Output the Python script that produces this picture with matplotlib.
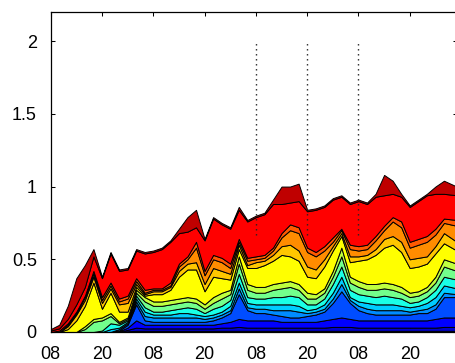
import matplotlib
matplotlib.use("Agg")
import matplotlib.pyplot as plt
import numpy as np

# Sample times in hours after 08:00 on the first day (two-hourly readings)
hours = list(range(0, 94, 2)) + [95]

# Cumulative upper edge of each stacked band, bottom band first
navy_top = [0, 0, 0, 0, 0, 0, 0, 0, 0, 0.005, 0.008, 0.008, 0.008, 0.008, 0.008, 0.008,
            0.008, 0.008, 0.008, 0.008, 0.008, 0.008, 0.008, 0.008, 0.008, 0.008, 0.008, 0.008,
            0.008, 0.008, 0.008, 0.008, 0.008, 0.008, 0.008, 0.008, 0.008, 0.008, 0.008, 0.008,
            0.008, 0.008, 0.008, 0.008, 0.008, 0.008, 0.008, 0.008]
darkblue_top = [0, 0, 0, 0, 0, 0, 0, 0, 0.002, 0.015, 0.03, 0.025, 0.025, 0.025, 0.025, 0.025,
                0.025, 0.025, 0.025, 0.025, 0.03, 0.03, 0.035, 0.03, 0.03, 0.03, 0.03, 0.03,
                0.03, 0.03, 0.03, 0.03, 0.03, 0.035, 0.035, 0.035, 0.03, 0.03, 0.03, 0.03,
                0.03, 0.03, 0.03, 0.03, 0.03, 0.03, 0.035, 0.035]
blue_top = [0, 0, 0, 0, 0, 0, 0, 0, 0.005, 0.03, 0.08, 0.05, 0.05, 0.05, 0.05, 0.05,
            0.05, 0.05, 0.05, 0.05, 0.06, 0.07, 0.09, 0.08, 0.08, 0.08, 0.08, 0.07,
            0.07, 0.07, 0.07, 0.07, 0.08, 0.09, 0.10, 0.09, 0.08, 0.08, 0.08, 0.08,
            0.08, 0.08, 0.08, 0.08, 0.08, 0.09, 0.10, 0.10]
azure_top = [0, 0, 0, 0, 0, 0, 0, 0, 0.01, 0.05, 0.19, 0.08, 0.07, 0.07, 0.07, 0.07,
             0.07, 0.07, 0.07, 0.08, 0.10, 0.13, 0.26, 0.15, 0.13, 0.13, 0.12, 0.11,
             0.10, 0.10, 0.11, 0.12, 0.14, 0.20, 0.28, 0.20, 0.15, 0.13, 0.12, 0.12,
             0.12, 0.12, 0.12, 0.13, 0.13, 0.16, 0.24, 0.24]
sky_top = [0, 0, 0, 0, 0, 0, 0, 0, 0.02, 0.06, 0.21, 0.11, 0.10, 0.10, 0.10, 0.10,
           0.10, 0.10, 0.09, 0.10, 0.12, 0.15, 0.30, 0.17, 0.16, 0.16, 0.15, 0.15,
           0.15, 0.14, 0.13, 0.14, 0.16, 0.23, 0.33, 0.22, 0.18, 0.16, 0.15, 0.15,
           0.15, 0.15, 0.14, 0.15, 0.16, 0.19, 0.27, 0.26]
lightblue_top = [0, 0, 0, 0, 0, 0, 0, 0.02, 0.03, 0.07, 0.23, 0.14, 0.12, 0.12, 0.12, 0.13,
                 0.13, 0.12, 0.11, 0.12, 0.14, 0.18, 0.34, 0.20, 0.19, 0.19, 0.19, 0.19,
                 0.19, 0.18, 0.15, 0.16, 0.19, 0.27, 0.38, 0.24, 0.21, 0.20, 0.19, 0.19,
                 0.19, 0.18, 0.17, 0.18, 0.20, 0.24, 0.32, 0.30]
cyan_top = [0, 0, 0, 0, 0, 0, 0.01, 0.06, 0.05, 0.08, 0.25, 0.17, 0.14, 0.14, 0.15, 0.16,
            0.17, 0.16, 0.13, 0.16, 0.18, 0.22, 0.40, 0.24, 0.23, 0.23, 0.24, 0.24,
            0.25, 0.24, 0.19, 0.19, 0.23, 0.33, 0.45, 0.29, 0.26, 0.25, 0.24, 0.25,
            0.24, 0.23, 0.20, 0.21, 0.24, 0.29, 0.38, 0.36]
green_top = [0, 0, 0, 0, 0.02, 0.07, 0.08, 0.11, 0.06, 0.09, 0.27, 0.21, 0.18, 0.18, 0.19, 0.20,
             0.21, 0.20, 0.16, 0.20, 0.23, 0.26, 0.47, 0.29, 0.27, 0.27, 0.29, 0.30,
             0.31, 0.29, 0.23, 0.23, 0.27, 0.38, 0.52, 0.34, 0.31, 0.29, 0.29, 0.30,
             0.29, 0.27, 0.24, 0.25, 0.28, 0.34, 0.45, 0.42]
lime_top = [0, 0, 0, 0, 0.04, 0.09, 0.10, 0.13, 0.07, 0.10, 0.29, 0.24, 0.21, 0.21, 0.22, 0.23,
            0.24, 0.23, 0.19, 0.24, 0.27, 0.29, 0.52, 0.33, 0.31, 0.31, 0.33, 0.34,
            0.35, 0.33, 0.27, 0.26, 0.30, 0.42, 0.58, 0.38, 0.35, 0.33, 0.33, 0.34,
            0.33, 0.31, 0.27, 0.28, 0.31, 0.38, 0.50, 0.47]
yellow_top = [0, 0, 0.02, 0.08, 0.18, 0.34, 0.16, 0.27, 0.14, 0.14, 0.31, 0.25, 0.26, 0.26, 0.29, 0.38,
              0.43, 0.43, 0.28, 0.38, 0.37, 0.36, 0.57, 0.44, 0.44, 0.46, 0.49, 0.53,
              0.52, 0.49, 0.38, 0.37, 0.45, 0.56, 0.66, 0.48, 0.49, 0.50, 0.53, 0.58,
              0.60, 0.55, 0.44, 0.45, 0.47, 0.54, 0.61, 0.56]
amber_top = [0, 0, 0.04, 0.12, 0.22, 0.38, 0.20, 0.30, 0.19, 0.20, 0.33, 0.26, 0.28, 0.28, 0.31, 0.42,
             0.47, 0.48, 0.33, 0.44, 0.42, 0.40, 0.60, 0.46, 0.48, 0.49, 0.53, 0.59,
             0.60, 0.56, 0.45, 0.43, 0.50, 0.59, 0.68, 0.52, 0.52, 0.53, 0.57, 0.64,
             0.66, 0.62, 0.50, 0.51, 0.52, 0.59, 0.68, 0.62]
orange_top = [0, 0, 0.05, 0.13, 0.24, 0.40, 0.22, 0.32, 0.21, 0.23, 0.35, 0.27, 0.29, 0.29, 0.32, 0.45,
              0.50, 0.58, 0.39, 0.50, 0.48, 0.44, 0.62, 0.49, 0.50, 0.51, 0.56, 0.65,
              0.70, 0.68, 0.55, 0.52, 0.56, 0.62, 0.70, 0.57, 0.56, 0.57, 0.63, 0.70,
              0.76, 0.72, 0.58, 0.60, 0.62, 0.67, 0.75, 0.73]
vermilion_top = [0, 0.01, 0.06, 0.14, 0.25, 0.42, 0.24, 0.34, 0.23, 0.25, 0.37, 0.29, 0.30, 0.30, 0.34, 0.47,
                 0.52, 0.62, 0.42, 0.53, 0.51, 0.47, 0.64, 0.51, 0.52, 0.53, 0.58, 0.68,
                 0.74, 0.72, 0.58, 0.55, 0.59, 0.65, 0.71, 0.60, 0.59, 0.60, 0.66, 0.73,
                 0.79, 0.76, 0.62, 0.64, 0.66, 0.71, 0.78, 0.77]
red_top = [0.01, 0.025, 0.09, 0.19, 0.31, 0.52, 0.37, 0.54, 0.42, 0.43, 0.56, 0.54, 0.55, 0.57, 0.62, 0.68,
           0.69, 0.72, 0.63, 0.78, 0.74, 0.71, 0.84, 0.76, 0.79, 0.81, 0.88, 0.88,
           0.89, 0.90, 0.83, 0.84, 0.86, 0.91, 0.93, 0.88, 0.90, 0.88, 0.93, 0.94,
           0.95, 0.93, 0.86, 0.90, 0.94, 0.95, 0.95, 0.94]
total = [0.02, 0.05, 0.18, 0.37, 0.46, 0.57, 0.38, 0.55, 0.43, 0.44, 0.57, 0.55, 0.56, 0.58, 0.63, 0.71,
         0.79, 0.84, 0.64, 0.79, 0.75, 0.72, 0.86, 0.77, 0.80, 0.82, 0.91, 1.00,
         1.00, 1.02, 0.84, 0.85, 0.87, 0.92, 0.94, 0.89, 0.91, 0.89, 0.95, 1.08,
         1.04, 0.95, 0.87, 0.91, 0.95, 1.00, 1.04, 1.00]

band_tops = [navy_top, darkblue_top, blue_top, azure_top, sky_top, lightblue_top,
             cyan_top, green_top, lime_top, yellow_top, amber_top, orange_top,
             vermilion_top, red_top, total]
band_colors = [(0.0, 0.0, 0.55), (0.0, 0.0, 0.8), (0.0, 0.0, 1.0), (0.0, 0.3, 1.0),
               (0.0, 0.55, 1.0), (0.0, 0.8, 1.0), (0.1, 1.0, 0.9), (0.45, 1.0, 0.55),
               (0.75, 1.0, 0.25), (1.0, 1.0, 0.0), (1.0, 0.78, 0.0), (1.0, 0.55, 0.0),
               (1.0, 0.35, 0.0), (1.0, 0.0, 0.0), (0.75, 0.0, 0.0)]

tick_hours = [0, 12, 24, 36, 48, 60, 72, 84]
tick_labels = ["08", "20", "08", "20", "08", "20", "08", "20"]
y_ticks = [0, 0.5, 1, 1.5, 2]
y_labels = ["0", "0.5", "1", "1.5", "2"]
marker_hours = [48, 60, 72]

plt.rcParams["font.family"] = ["Liberation Sans", "DejaVu Sans"]

fig = plt.figure(figsize=(4.55, 3.63), dpi=100)
ax = fig.add_axes([0.1114, 0.0854, 0.8925, 0.8815])

x = np.array(hours, dtype=float)
lower = np.zeros(len(x))
for top, color in zip(band_tops, band_colors):
    top = np.array(top, dtype=float)
    ax.fill_between(x, lower, top, facecolor=color, edgecolor="black",
                    linewidth=0.7, zorder=2)
    lower = top

ax.vlines(marker_hours, 0.67, 2.0, colors="#222222", linestyles=(0, (1, 2.6)),
          linewidth=1.0, zorder=3)

ax.set_xlim(0, 95)
ax.set_ylim(0, 2.2)
ax.set_xticks(tick_hours)
ax.set_xticklabels(tick_labels)
ax.set_yticks(y_ticks)
ax.set_yticklabels(y_labels)
ax.tick_params(direction="in", length=3, width=0.75, top=True, right=True,
               labelsize=13, colors="black")
ax.tick_params(axis="x", pad=10)
ax.tick_params(axis="y", pad=10)
for s in ax.spines.values():
    s.set_linewidth(0.9)
    s.set_color("black")
    s.set_zorder(5)

fig.savefig("out.png", dpi=100)
